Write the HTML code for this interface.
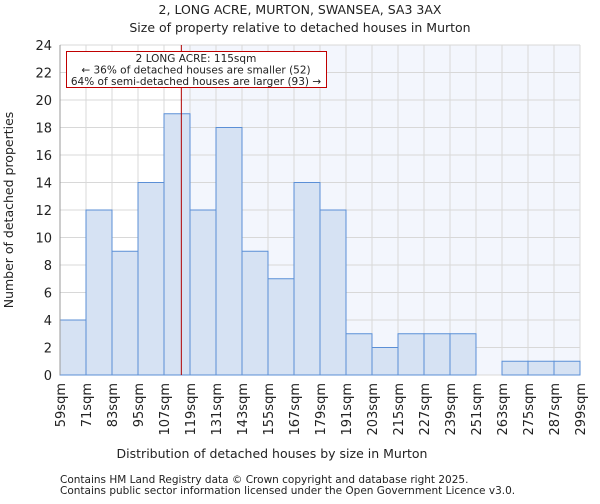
<!DOCTYPE html>
<html><head><meta charset="utf-8"><style>
body{margin:0;background:#fff;font-family:"DejaVu Sans","Liberation Sans",sans-serif;}
svg text{font-family:"DejaVu Sans","Liberation Sans",sans-serif;fill:#222;}
</style></head><body>
<svg id="chart" width="600" height="500" viewBox="0 0 600 500" xmlns="http://www.w3.org/2000/svg">
<text x="300" y="14" text-anchor="middle" font-size="12.5">2, LONG ACRE, MURTON, SWANSEA, SA3 3AX</text>
<text x="300" y="32" text-anchor="middle" font-size="12.5">Size of property relative to detached houses in Murton</text>
<g id="plot"></g>
<text x="272" y="458" text-anchor="middle" font-size="12.5">Distribution of detached houses by size in Murton</text>
<text transform="translate(13,210) rotate(-90)" text-anchor="middle" font-size="12.5">Number of detached properties</text>
<text x="60" y="483" font-size="10.5" fill="#444">Contains HM Land Registry data © Crown copyright and database right 2025.</text>
<text x="60" y="494" font-size="10.5" fill="#444">Contains public sector information licensed under the Open Government Licence v3.0.</text>
</svg>
<script>
const binStarts = [59,71,83,95,107,119,131,143,155,167,179,191,203,215,227,239,251,263,275,287];
const counts = [4,12,9,14,19,12,18,9,7,14,12,3,2,3,3,3,0,1,1,1];
const xTickLabels = ["59sqm","71sqm","83sqm","95sqm","107sqm","119sqm","131sqm","143sqm","155sqm","167sqm","179sqm","191sqm","203sqm","215sqm","227sqm","239sqm","251sqm","263sqm","275sqm","287sqm","299sqm"];
const yTicks = [0,2,4,6,8,10,12,14,16,18,20,22,24];
const propertySize = 115;
const annotationLines = ["2 LONG ACRE: 115sqm","← 36% of detached houses are smaller (52)","64% of semi-detached houses are larger (93) →"];

const X0=60,X1=580,Y0=375,Y1=45,xmin=59,xmax=299,ymax=24;
const xs=v=>X0+(v-xmin)/(xmax-xmin)*(X1-X0);
const ys=v=>Y0-v/ymax*(Y0-Y1);
const NS="http://www.w3.org/2000/svg";
const g=document.getElementById('plot');
function mk(t,a){const e=document.createElementNS(NS,t);for(const k in a)e.setAttribute(k,a[k]);g.appendChild(e);return e;}
let bg=mk('rect',{x:xs(propertySize),y:Y1,width:X1-xs(propertySize),height:Y0-Y1,fill:'#f3f6fd'});


yTicks.forEach(t=>{
 let l=mk('line',{x1:X0,x2:X1,y1:ys(t),y2:ys(t),stroke:'#d8d8d8','stroke-width':1});
 
 
 let tx=mk('text',{x:X0-8,y:ys(t)+5,'text-anchor':'end','font-size':13});
 tx.textContent=t;
 
 
});
xTickLabels.forEach((lab,i)=>{
 const v=xmin+i*12;
 let l=mk('line',{x1:xs(v),x2:xs(v),y1:Y1,y2:Y0,stroke:'#d8d8d8','stroke-width':1});
 
 
 let tx=mk('text',{transform:`translate(${xs(v)+5},${Y0+8}) rotate(-90)`,'text-anchor':'end','font-size':13});
 tx.textContent=lab;
 
 
});
binStarts.forEach((s,i)=>{
 if(!counts[i])return;
 let r=mk('rect',{x:xs(s),y:ys(counts[i]),width:xs(s+12)-xs(s),height:Y0-ys(counts[i]),fill:'#d6e2f3',stroke:'#5b8fd6','stroke-width':1});
 
 
});
let ax=mk('line',{x1:X0,x2:X0,y1:Y1,y2:Y0,stroke:'#999'});


let pl=mk('line',{x1:xs(propertySize),x2:xs(propertySize),y1:Y1,y2:Y0,stroke:'#b00000','stroke-width':1});


let box=mk('rect',{x:66.5,y:51.5,width:260,height:36,fill:'#fff',stroke:'#c00000','stroke-width':1});


annotationLines.forEach((t,i)=>{
 let tx=mk('text',{x:196,y:62+i*11.5,'text-anchor':'middle','font-size':10.5});
 tx.textContent=t;
 
 
});
</script>
</body></html>
